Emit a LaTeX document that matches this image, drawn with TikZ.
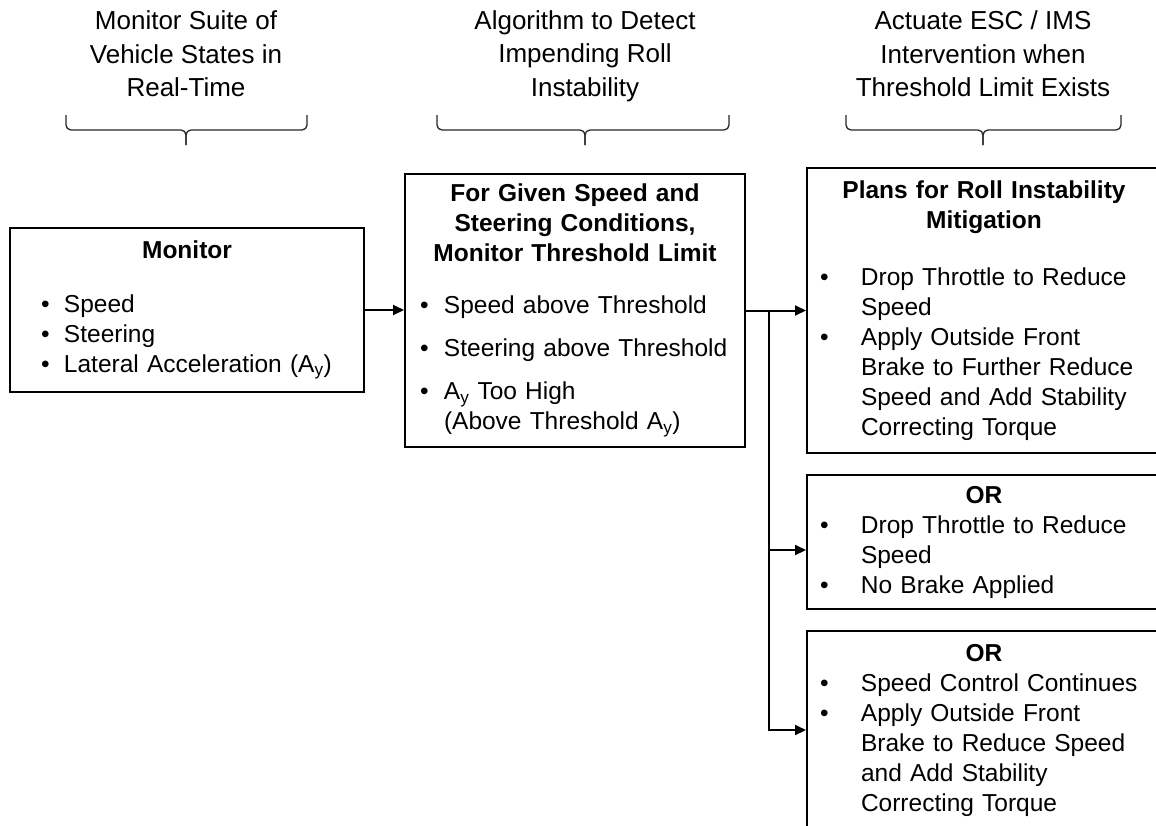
\documentclass[tikz,border=0pt]{standalone}
\usepackage{fontspec}
\setmainfont{Liberation Sans}
\usetikzlibrary{positioning,arrows.meta}
\tikzset{
        >={Triangle[length=11pt,width=10pt]}, % filled arrow heads
        box/.style={draw, line width=2pt, inner sep=0pt, anchor=north west, align=left,
                    font=\fontsize{24.5}{30}\selectfont}, % every framed block
        wide/.style={minimum width=354pt, text width=354pt},
        hdr/.style={align=center, font=\fontsize{26}{33.5}\selectfont}, % column titles
        arr/.style={->, line width=2pt},
        brc/.style={line width=1.3pt, black!85, rounded corners=5pt},
}
\newcommand{\itm}[3]{\hspace*{#1}\makebox[#2][l]{\textbullet}#3}
\newcommand{\ttl}[1]{\makebox[\hsize]{\bfseries #1}}

\begin{document}
\begin{tikzpicture}[x=1pt,y=-1pt]
\useasboundingbox (0,0) rectangle (1156,825);
\clip (0,0) rectangle (1156,825);

\node[hdr] (hmon) at (186,54) {Monitor Suite of\\Vehicle States in\\Real-Time};
\node[hdr] (halg) at (585,56) {Algorithm to Detect\\Impending Roll\\Instability};
\node[hdr] (hact) at (983,54) {Actuate ESC / IMS\\Intervention when\\Threshold Limit Exists};

\foreach \l/\m/\r in {66/186/307, 437/585/729, 846/983/1121}{
  \draw[brc] (\l,115) |- (\m,130) -- (\m,145);
  \draw[brc] (\r,115) |- (\m,130) -- (\m,145);
}

\node[box, wide, minimum height=164pt] (mon) at (9,227) {\ttl{Monitor}\\[24pt]
  \itm{31pt}{23pt}{Speed}\\
  \itm{31pt}{23pt}{Steering}\\
  \itm{31pt}{23pt}{Lateral Acceleration (A\textsubscript{y})}};

\node[box, minimum width=340pt, text width=340pt, minimum height=273pt] (alg) at (404,173) {%
  \ttl{For Given Speed and}\\
  \ttl{Steering Conditions,}\\
  \ttl{Monitor Threshold Limit}\\[22pt]
  \itm{15pt}{24pt}{Speed above Threshold}\\[13pt]
  \itm{15pt}{24pt}{Steering above Threshold}\\[13pt]
  \itm{15pt}{24pt}{A\textsubscript{y} Too High}\\
  \hspace*{39pt}(Above Threshold A\textsubscript{y})};

\node[box, wide, minimum height=285pt] (plan) at (806,167) {%
  \ttl{Plans for Roll Instability}\\
  \ttl{Mitigation}\\[27pt]
  \itm{13pt}{41pt}{Drop Throttle to Reduce}\\
  \hspace*{54pt}Speed\\
  \itm{13pt}{41pt}{Apply Outside Front}\\
  \hspace*{54pt}Brake to Further Reduce\\
  \hspace*{54pt}Speed and Add Stability\\
  \hspace*{54pt}Correcting Torque};

\node[box, wide, minimum height=134pt] (or1) at (806,474) {%
  \ttl{OR}\\
  \itm{13pt}{41pt}{Drop Throttle to Reduce}\\
  \hspace*{54pt}Speed\\
  \itm{13pt}{41pt}{No Brake Applied}};

\node[box, wide, minimum height=198pt] (or2) at (806,630) {%
  \ttl{OR}\\
  \itm{13pt}{41pt}{Speed Control Continues}\\
  \itm{13pt}{41pt}{Apply Outside Front}\\
  \hspace*{54pt}Brake to Reduce Speed\\
  \hspace*{54pt}and Add Stability\\
  \hspace*{54pt}Correcting Torque};

\coordinate[right=23pt of alg.east] (split);
\draw[arr] (mon.east) -- (mon.east -| alg.west);
\draw[arr] (alg.east) -- (alg.east -| plan.west);
\draw[arr] (split) |- ([yshift=-8pt]or1.west);
\draw[arr] (split) |- (or2.west);
\end{tikzpicture}
\end{document}
